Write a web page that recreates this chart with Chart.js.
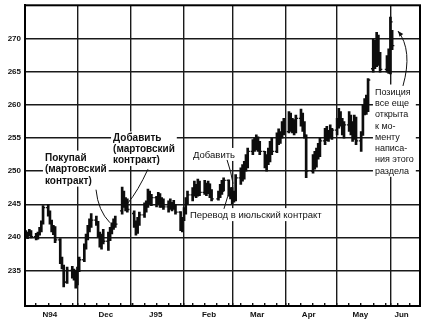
<!DOCTYPE html>
<html>
<head>
<meta charset="utf-8">
<script src="https://cdn.jsdelivr.net/npm/chart.js@4.4.1/dist/chart.umd.min.js"></script>
<style>
html, body { margin: 0; padding: 0; background: #fff; }
</style>
</head>
<body>
<canvas id="grafico" width="430" height="327"></canvas>
<script>
// dias contados desde el 31 oct 1994 (1 = 1 nov)
const dias = [1, 2, 3, 4, 7, 8, 9, 10, 11, 14, 15, 16, 17, 18, 21, 22, 23, 25, 28, 29, 30,
    31, 32, 35, 36, 37, 38, 39, 42, 43, 44, 45, 46, 49, 50, 51, 52, 53, 57, 58, 59, 60,
    64, 65, 66, 67, 70, 71, 72, 73, 74, 77, 78, 79, 80, 81, 84, 85, 86, 87, 88, 91, 92,
    93, 94, 95, 98, 99, 100, 101, 102, 105, 106, 107, 108, 109, 113, 114, 115, 116, 119, 120,
    121, 122, 123, 126, 127, 128, 129, 130, 133, 134, 135, 136, 137, 140, 141, 142, 143, 144, 147, 148, 149, 150, 151,
    154, 155, 156, 157, 158, 161, 162, 163, 164, 168, 169, 170, 171, 172, 175, 176, 177, 178, 179,
    182, 183, 184, 185, 186, 189, 190, 191, 192, 193, 196, 197, 198, 199, 200, 203, 204, 205, 206, 207, 211, 212,
    213, 214];

const aperturas = [240.6, 240.2, 240.5, 240.8, 240.1, 240.0, 240.6, 241.2, 242.3, 244.5, 243.6, 242.3, 241.2, 241.5, 239.6, 236.5, 235.6, 233.2, 235.0, 234.2, 234.8,
    233.2, 235.2, 236.6, 238.7, 240.0, 241.4, 242.1, 242.6, 242.2, 240.4, 239.0, 240.2, 239.4, 240.5, 241.2, 241.8, 242.6, 244.0, 246.8, 245.0, 245.6,
    243.6, 242.0, 240.8, 242.6, 243.4, 244.8, 245.2, 246.8, 245.4, 246.0, 245.0, 246.0, 245.0, 245.6, 244.6, 245.2, 244.8, 245.0, 244.4, 243.8, 241.4,
    242.6, 244.2, 245.6, 246.4, 247.0, 247.8, 246.4, 248.4, 246.8, 248.0, 246.8, 248.0, 246.4, 245.8, 246.6, 247.6, 247.0, 248.6, 246.6,
    247.2, 245.6, 246.6, 249.0, 250.2, 249.0, 251.2, 250.6, 253.0, 254.2, 253.4, 255.0, 253.6, 253.0, 251.0, 252.0, 251.6, 254.0, 253.0, 255.4, 254.6, 255.6, 257.2,
    256.0, 258.6, 256.6, 257.4, 256.0, 258.0, 257.2, 256.4, 255.4, 250.0, 252.0, 250.8, 253.2, 252.4, 254.6, 256.0, 255.0, 256.0, 255.4,
    256.2, 257.6, 258.8, 257.2, 256.0, 257.0, 258.4, 256.0, 255.0, 258.0, 254.6, 255.6, 259.6, 259.0, 260.8, 265.5, 269.6, 266.0, 270.4, 266.6, 265.4, 267.0,
    265.4, 270.8];

const maximos = [241.0, 240.8, 241.2, 241.0, 240.6, 240.8, 241.5, 242.5, 244.8, 245.0, 244.0, 242.6, 241.8, 241.6, 239.8, 237.0, 235.8, 235.5, 235.6, 235.2, 235.0,
    235.5, 237.0, 239.0, 240.5, 241.8, 242.8, 243.6, 243.2, 242.4, 240.8, 240.5, 241.2, 240.8, 241.5, 242.2, 242.8, 243.2, 247.6, 247.0, 246.0, 245.8,
    244.0, 242.5, 243.0, 243.8, 245.2, 245.5, 247.3, 247.0, 246.5, 246.2, 246.8, 246.6, 246.0, 245.8, 245.5, 245.8, 245.3, 245.6, 245.0, 243.9, 243.0,
    244.5, 246.0, 247.0, 247.5, 248.5, 248.0, 248.8, 248.5, 248.6, 248.2, 248.5, 248.1, 247.2, 247.0, 248.0, 248.6, 249.0, 248.7, 247.5,
    247.5, 247.0, 249.5, 250.5, 251.0, 251.5, 252.5, 253.5, 254.8, 255.0, 255.5, 255.2, 254.5, 253.0, 252.5, 253.5, 254.5, 255.0, 255.8, 256.4, 256.0, 257.5, 258.0,
    259.0, 258.8, 258.0, 257.8, 258.5, 259.4, 258.8, 257.5, 255.5, 252.5, 253.0, 253.5, 254.2, 255.0, 256.5, 256.8, 256.2, 257.0, 256.5,
    258.0, 259.5, 259.0, 258.0, 257.5, 259.0, 258.5, 257.5, 258.5, 258.2, 256.0, 260.0, 261.0, 261.5, 264.0, 270.0, 269.8, 271.0, 270.6, 268.0, 267.5, 268.5,
    273.3, 271.3];

const minimos = [240.0, 239.8, 240.2, 239.9, 239.6, 239.7, 240.3, 240.8, 242.0, 243.2, 242.0, 240.8, 240.4, 239.2, 236.0, 235.2, 232.5, 233.0, 233.8, 233.5, 232.3,
    232.8, 234.8, 236.3, 238.2, 239.6, 240.8, 241.5, 241.8, 240.0, 238.5, 238.2, 239.0, 238.0, 239.5, 240.5, 241.2, 241.5, 243.5, 244.5, 244.0, 243.8,
    241.5, 240.3, 240.6, 241.8, 243.0, 243.8, 244.5, 245.0, 244.8, 244.6, 245.0, 244.5, 244.5, 244.2, 243.8, 244.2, 244.0, 244.2, 243.5, 241.0, 240.8,
    242.5, 243.5, 245.0, 245.5, 246.2, 246.0, 246.2, 246.3, 246.5, 246.3, 246.6, 246.0, 245.5, 245.6, 246.0, 246.5, 247.0, 246.2, 245.8,
    245.0, 245.3, 245.5, 248.0, 248.5, 248.8, 250.0, 250.5, 252.5, 253.0, 253.2, 253.0, 252.5, 250.5, 250.0, 251.0, 251.4, 252.5, 252.8, 254.0, 254.2, 255.0, 255.5,
    255.8, 256.0, 255.8, 255.5, 255.8, 256.8, 256.0, 255.0, 249.0, 249.7, 250.3, 250.6, 251.8, 252.2, 254.0, 254.6, 254.5, 255.0, 254.8,
    255.5, 256.5, 256.8, 255.5, 255.0, 256.0, 255.5, 254.5, 254.8, 254.0, 253.0, 255.4, 258.5, 258.6, 259.0, 265.0, 265.5, 265.8, 266.0, 265.0, 265.0, 264.8,
    264.7, 268.4];

const cierres = [240.2, 240.5, 240.9, 240.1, 240.0, 240.6, 241.2, 242.3, 244.5, 243.6, 242.3, 241.2, 241.5, 239.6, 236.5, 235.6, 233.2, 235.0, 234.2, 234.8, 233.2,
    235.2, 236.6, 238.7, 240.0, 241.4, 242.1, 242.6, 242.2, 240.4, 239.0, 240.2, 239.4, 240.5, 241.2, 241.8, 242.6, 242.0, 246.8, 245.0, 245.6, 244.2,
    242.0, 240.8, 242.6, 243.4, 244.8, 245.2, 246.8, 245.4, 246.0, 245.0, 246.4, 245.0, 245.6, 244.6, 245.2, 244.8, 245.0, 244.4, 243.8, 241.4, 242.6,
    244.2, 245.6, 246.4, 247.0, 247.8, 246.4, 248.4, 246.8, 248.0, 246.8, 248.0, 246.4, 245.8, 246.6, 247.6, 247.0, 248.6, 246.6, 247.2,
    245.6, 246.6, 249.0, 250.2, 249.0, 251.2, 250.6, 253.0, 254.2, 253.4, 255.0, 253.6, 253.0, 251.0, 252.0, 251.6, 254.0, 253.0, 255.4, 254.6, 255.6, 257.2, 256.0,
    258.6, 256.6, 257.4, 256.0, 258.0, 257.2, 256.4, 255.4, 250.0, 252.0, 250.8, 253.2, 252.4, 254.6, 256.0, 255.0, 256.0, 255.4, 256.2,
    257.6, 258.8, 257.2, 256.0, 257.0, 258.4, 256.0, 255.0, 258.0, 254.6, 255.6, 259.6, 259.0, 260.8, 263.8, 269.6, 266.0, 270.4, 266.6, 265.4, 267.0, 265.4,
    272.6, 269.0];

// eje de precios
const preciosEje = [235, 240, 245, 250, 255, 260, 265, 270];
// eje de tiempo: inicio de mes (lineas), etiquetas y marcas semanales
const iniciosMes = [31, 62, 93, 121, 152, 182, 213];
const diasEtiqueta = [15, 47.5, 76.5, 107.5, 135.5, 165.5, 195.5, 219.5];
const etiquetasMes = ['N94', 'Dec', 'J95', 'Feb', 'Mar', 'Apr', 'May', 'Jun'];
const marcasSemana = [7, 14, 21, 28, 35, 42, 49, 56, 63, 70, 77, 84, 91, 98, 105, 112, 119, 126, 133, 140,
    147, 154, 161, 168, 175, 189, 196, 203, 210, 217, 224];

const FUENTE = '"Liberation Sans", Arial, sans-serif';

// textos y flechas del grafico (posiciones en dia / precio)
const notas = {
    id: 'notas',
    afterDatasetsDraw(chart) {
        const ctx = chart.ctx;
        const sx = chart.scales.x, sy = chart.scales.y;
        const X = d => sx.getPixelForValue(d);
        const Y = p => sy.getPixelForValue(p);

        function bloque(d, p, lineas, fuente, alto) {
            ctx.save();
            ctx.font = fuente;
            let ancho = 0;
            lineas.forEach(t => { ancho = Math.max(ancho, ctx.measureText(t).width); });
            const x0 = X(d), y0 = Y(p);
            ctx.fillStyle = '#fff';
            ctx.fillRect(x0 - 2, y0 - 10, ancho + 4, alto * (lineas.length - 1) + 13);
            ctx.fillStyle = '#111';
            ctx.textBaseline = 'alphabetic';
            lineas.forEach((t, i) => ctx.fillText(t, x0, y0 + i * alto));
            ctx.restore();
        }

        function flecha(a, c, b, punta) {
            ctx.save();
            ctx.strokeStyle = '#111';
            ctx.lineWidth = 1;
            ctx.beginPath();
            ctx.moveTo(X(a[0]), Y(a[1]));
            ctx.quadraticCurveTo(X(c[0]), Y(c[1]), X(b[0]), Y(b[1]));
            ctx.stroke();
            if (punta) {
                const ang = Math.atan2(Y(b[1]) - Y(c[1]), X(b[0]) - X(c[0]));
                const bx = X(b[0]), by = Y(b[1]);
                ctx.fillStyle = '#111';
                ctx.beginPath();
                ctx.moveTo(bx, by);
                ctx.lineTo(bx - 6 * Math.cos(ang - 0.4), by - 6 * Math.sin(ang - 0.4));
                ctx.lineTo(bx - 6 * Math.cos(ang + 0.4), by - 6 * Math.sin(ang + 0.4));
                ctx.closePath();
                ctx.fill();
            }
            ctx.restore();
        }

        bloque(12.1, 251.6, ['Покупай', '(мартовский', 'контракт)'], 'bold 10px ' + FUENTE, 11.5);
        bloque(51.7, 254.5, ['Добавить', '(мартовский', 'контракт)'], 'bold 10px ' + FUENTE, 10.8);
        bloque(98.2, 252.0, ['Добавить'], '9.5px ' + FUENTE, 11);
        bloque(96.4, 242.9, ['Перевод в июльский контракт'], '9.5px ' + FUENTE, 11);
        bloque(204.0, 261.6, ['Позиция', 'все еще', 'открыта', 'к мо-', 'менту', 'написа-', 'ния этого', 'раздела'],
            '9px ' + FUENTE, 11.33);

        flecha([41.8, 247.2], [43.0, 244.0], [49.9, 242.2], false);
        flecha([72.0, 250.3], [66.2, 247.0], [60.4, 245.2], false);
        flecha([118.0, 251.7], [120.3, 250.0], [121.5, 248.1], false);
        flecha([116.2, 244.3], [117.9, 246.3], [121.5, 247.8], false);
        flecha([220.3, 262.9], [226.1, 268.3], [217.4, 271.2], true);
    }
};

// marco completo del area
const marco = {
    id: 'marco',
    afterDraw(chart) {
        const a = chart.chartArea, ctx = chart.ctx;
        ctx.save();
        ctx.strokeStyle = '#000';
        ctx.lineWidth = 2;
        ctx.strokeRect(a.left, a.top, a.right - a.left, a.bottom - a.top);
        ctx.restore();
    }
};

function sinRelleno(scale) {
    scale.paddingTop = 0;
    scale.paddingBottom = 0;
    scale.paddingLeft = 0;
    scale.paddingRight = 0;
}

function grafico() {
    const barras = dias.map((d, i) => ({ x: d, y: [minimos[i], maximos[i]] }));
    const ptsApertura = dias.map((d, i) => ({ x: d, y: aperturas[i] }));
    const ptsCierre = dias.map((d, i) => ({ x: d, y: cierres[i] }));

    const todas = new Map();
    marcasSemana.forEach(v => todas.set(v, 'semana'));
    diasEtiqueta.forEach(v => todas.set(v, 'etiqueta'));
    iniciosMes.forEach(v => todas.set(v, 'mes'));
    const ticksX = Array.from(todas.keys()).sort((a, b) => a - b);

    const myChart = new Chart('grafico', {
        type: 'bar',
        data: {
            datasets: [{
                type: 'bar',
                label: 'Диапазон',
                data: barras,
                backgroundColor: '#0d0d0d',
                borderWidth: 0,
                barThickness: 2,
                grouped: false
            }, {
                type: 'scatter',
                label: 'Открытие',
                data: ptsApertura,
                pointStyle: 'dash',
                rotation: 180,
                pointRadius: 2.2,
                borderColor: '#111',
                borderWidth: 1.3
            }, {
                type: 'scatter',
                label: 'Закрытие',
                data: ptsCierre,
                pointStyle: 'dash',
                rotation: 0,
                pointRadius: 2.2,
                borderColor: '#111',
                borderWidth: 1.3
            }]
        },
        options: {
            responsive: false,
            devicePixelRatio: 1,
            animation: false,
            events: [],
            layout: { padding: { top: 1, right: 10, left: 0, bottom: 0 } },
            plugins: {
                legend: { display: false },
                tooltip: { enabled: false }
            },
            scales: {
                x: {
                    type: 'linear',
                    min: 0.5,
                    max: 230.2,
                    offset: false,
                    afterBuildTicks: function (scale) {
                        scale.ticks = ticksX.map(v => ({ value: v }));
                    },
                    afterFit: function (scale) {
                        scale.height = 21;
                        sinRelleno(scale);
                    },
                    grid: {
                        offset: false,
                        color: c => (c.tick && todas.get(c.tick.value) === 'mes') ? '#1a1a1a' : 'rgba(0,0,0,0)',
                        tickColor: c => (c.tick && todas.get(c.tick.value) !== 'etiqueta') ? '#111' : 'rgba(0,0,0,0)',
                        lineWidth: 1.4,
                        tickLength: -3
                    },
                    border: { display: true, color: '#000', width: 2 },
                    ticks: {
                        autoSkip: false,
                        maxRotation: 0,
                        minRotation: 0,
                        padding: 7,
                        color: '#111',
                        font: { family: FUENTE, size: 8, weight: 'bold' },
                        callback: function (val) {
                            const i = diasEtiqueta.indexOf(val);
                            return i >= 0 ? etiquetasMes[i] : '';
                        }
                    }
                },
                y: {
                    type: 'linear',
                    min: 229.6,
                    max: 275.1,
                    beginAtZero: false,
                    afterBuildTicks: function (scale) {
                        scale.ticks = preciosEje.map(v => ({ value: v }));
                    },
                    afterFit: function (scale) {
                        scale.width = 25;
                        sinRelleno(scale);
                    },
                    grid: { color: '#1a1a1a', lineWidth: 1.4, drawTicks: false },
                    border: { display: true, color: '#000', width: 2 },
                    ticks: {
                        padding: 4,
                        color: '#111',
                        font: { family: FUENTE, size: 8, weight: 'bold' }
                    }
                }
            }
        },
        plugins: [notas, marco]
    });
}

grafico();
</script>
</body>
</html>
